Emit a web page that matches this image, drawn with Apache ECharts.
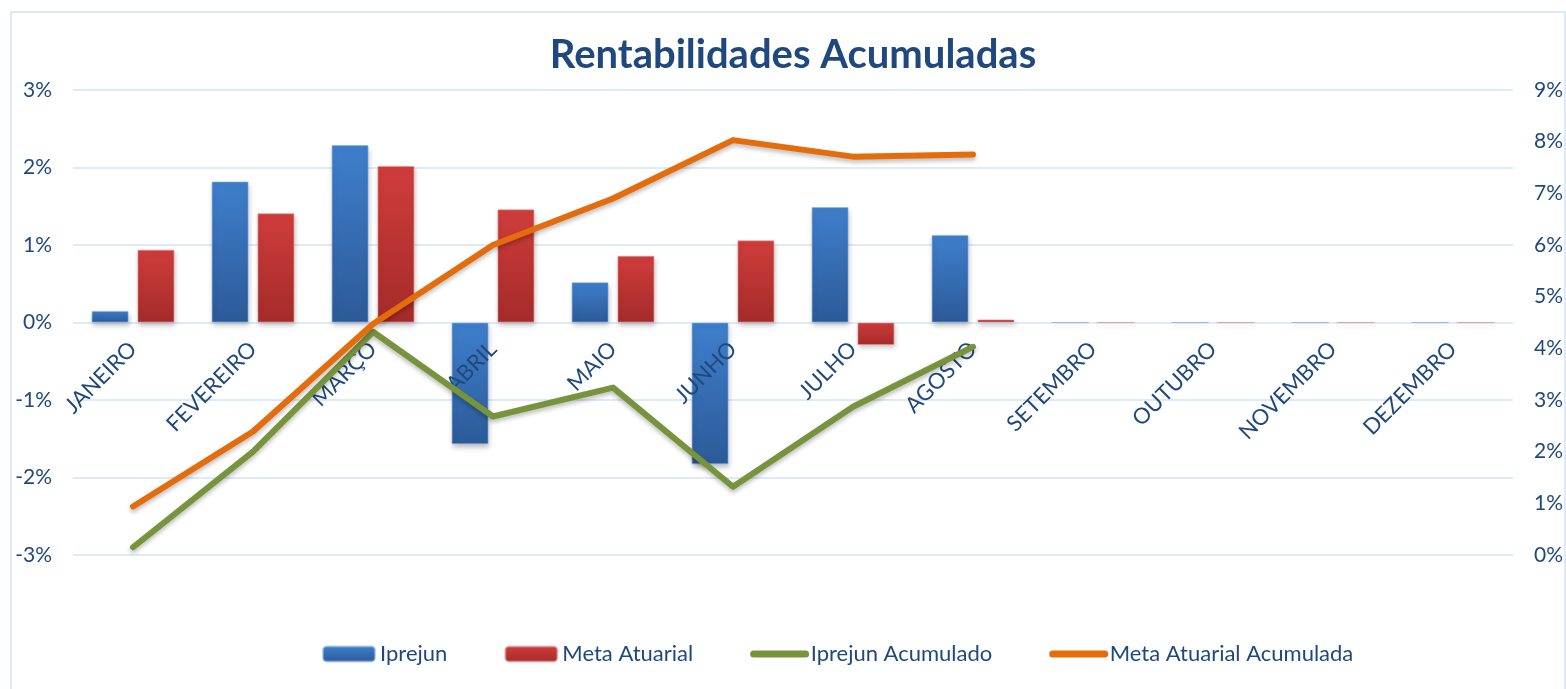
<!DOCTYPE html>
<html>
<head>
<meta charset="utf-8">
<script src="https://cdn.jsdelivr.net/npm/echarts@6/dist/echarts.min.js"></script>
<style>
  html, body { margin: 0; padding: 0; background: #ffffff; }
  #chart { width: 1566px; height: 689px; }
</style>
</head>
<body>
<div id="chart"></div>
<script>
const months = ['JANEIRO', 'FEVEREIRO', 'MARÇO', 'ABRIL', 'MAIO', 'JUNHO', 'JULHO', 'AGOSTO', 'SETEMBRO', 'OUTUBRO', 'NOVEMBRO', 'DEZEMBRO'];
const iprejun = [0.15, 1.82, 2.29, -1.57, 0.52, -1.83, 1.49, 1.13, 0, 0, 0, 0];
const metaAtuarial = [0.94, 1.41, 2.02, 1.46, 0.86, 1.06, -0.29, 0.04, 0, 0, 0, 0];
const iprejunAcumulado = [0.15, 2.0, 4.32, 2.68, 3.24, 1.32, 2.87, 4.03, null, null, null, null];
const metaAtuarialAcumulada = [0.94, 2.39, 4.47, 6.0, 6.9, 8.03, 7.71, 7.75, null, null, null, null];
const leftTicks = { min: -3, max: 3, step: 1 };
const rightTicks = { min: 0, max: 9, step: 1 };

const FONT = 'Lato, "Open Sans", sans-serif';
const TXT = '#1F497D';
const GRID = '#D6E3F4';

const GRID_TOP = 90, GRID_BOTTOM = 134, CHART_H = 689;
const plotH = CHART_H - GRID_TOP - GRID_BOTTOM;
// move the category axis up to the zero line of the left axis
const zeroOffset = -plotH * (0 - leftTicks.min) / (leftTicks.max - leftTicks.min);

const chart = echarts.init(document.getElementById('chart'), null, { renderer: 'canvas' });

const grad = (top, bottom) => new echarts.graphic.LinearGradient(0, 0, 0, 1, [
  { offset: 0, color: top }, { offset: 1, color: bottom }
]);

chart.setOption({
  backgroundColor: '#ffffff',
  animation: false,
  title: {
    text: 'Rentabilidades Acumuladas',
    left: 788,
    textAlign: 'center',
    top: 30,
    textStyle: { fontFamily: FONT, fontWeight: 'bold', fontSize: 40, color: TXT }
  },
  graphic: [{
    type: 'rect',
    shape: { x: 11, y: 12, width: 1554, height: 700 },
    style: { fill: 'none', stroke: '#D3E1F3', lineWidth: 1.5 },
    silent: true, z: -1
  }],
  legend: {
    left: 317,
    top: 638,
    itemWidth: 52,
    itemHeight: 15,
    itemGap: 57,
    textStyle: { fontFamily: FONT, fontSize: 22, color: TXT },
    data: [
      { name: 'Iprejun' },
      { name: 'Meta Atuarial' },
      { name: 'Iprejun Acumulado', itemStyle: { opacity: 0 }, lineStyle: { width: 7, cap: 'round', shadowBlur: 0 } },
      { name: 'Meta Atuarial Acumulada', itemStyle: { opacity: 0 }, lineStyle: { width: 7, cap: 'round', shadowBlur: 0 } }
    ]
  },
  grid: { left: 73, right: 53, top: GRID_TOP, bottom: GRID_BOTTOM },
  xAxis: {
    type: 'category',
    data: months,
    boundaryGap: true,
    position: 'bottom',
    offset: zeroOffset,
    z: 3,
    axisLine: { show: false, onZero: false },
    axisTick: { show: false },
    axisLabel: {
      interval: 0, rotate: 45, margin: 23,
      fontFamily: FONT, fontSize: 22, color: TXT
    },
    splitLine: { show: false }
  },
  yAxis: [{
    type: 'value',
    min: leftTicks.min, max: leftTicks.max, interval: leftTicks.step,
    position: 'left',
    axisLine: { show: false }, axisTick: { show: false },
    axisLabel: { formatter: v => v + '%', fontFamily: FONT, fontSize: 21, color: TXT, margin: 21 },
    splitLine: { show: true, lineStyle: { color: GRID, width: 1.5 } }
  }, {
    type: 'value',
    min: rightTicks.min, max: rightTicks.max, interval: rightTicks.step,
    position: 'right',
    axisLine: { show: false }, axisTick: { show: false },
    axisLabel: { formatter: v => v + '%', fontFamily: FONT, fontSize: 21, color: TXT, margin: 21 },
    splitLine: { show: false }
  }],
  series: [{
    name: 'Iprejun',
    type: 'bar',
    yAxisIndex: 0,
    data: iprejun,
    barWidth: 37,
    barGap: '24%',
    z: 2,
    itemStyle: {
      color: grad('#3F7FCC', '#2C5A98'),
      borderColor: 'rgba(140,180,230,0.6)', borderWidth: 1,
      shadowColor: 'rgba(0,0,0,0.25)', shadowBlur: 5, shadowOffsetY: 3, shadowOffsetX: 1
    }
  }, {
    name: 'Meta Atuarial',
    type: 'bar',
    yAxisIndex: 0,
    data: metaAtuarial,
    barWidth: 37,
    z: 2,
    itemStyle: {
      color: grad('#D03D3B', '#A42B2A'),
      borderColor: 'rgba(230,150,150,0.6)', borderWidth: 1,
      shadowColor: 'rgba(0,0,0,0.25)', shadowBlur: 5, shadowOffsetY: 3, shadowOffsetX: 1
    }
  }, {
    name: 'Iprejun Acumulado',
    type: 'line',
    yAxisIndex: 1,
    data: iprejunAcumulado,
    symbol: 'none',
    z: 4,
    itemStyle: { color: '#77933C' },
    lineStyle: {
      color: '#77933C', width: 6, cap: 'round', join: 'round',
      shadowColor: 'rgba(0,0,0,0.25)', shadowBlur: 4, shadowOffsetY: 3
    }
  }, {
    name: 'Meta Atuarial Acumulada',
    type: 'line',
    yAxisIndex: 1,
    data: metaAtuarialAcumulada,
    symbol: 'none',
    z: 4,
    itemStyle: { color: '#E46C0A' },
    lineStyle: {
      color: '#E46C0A', width: 6, cap: 'round', join: 'round',
      shadowColor: 'rgba(0,0,0,0.25)', shadowBlur: 4, shadowOffsetY: 3
    }
  }]
});
</script>
</body>
</html>
